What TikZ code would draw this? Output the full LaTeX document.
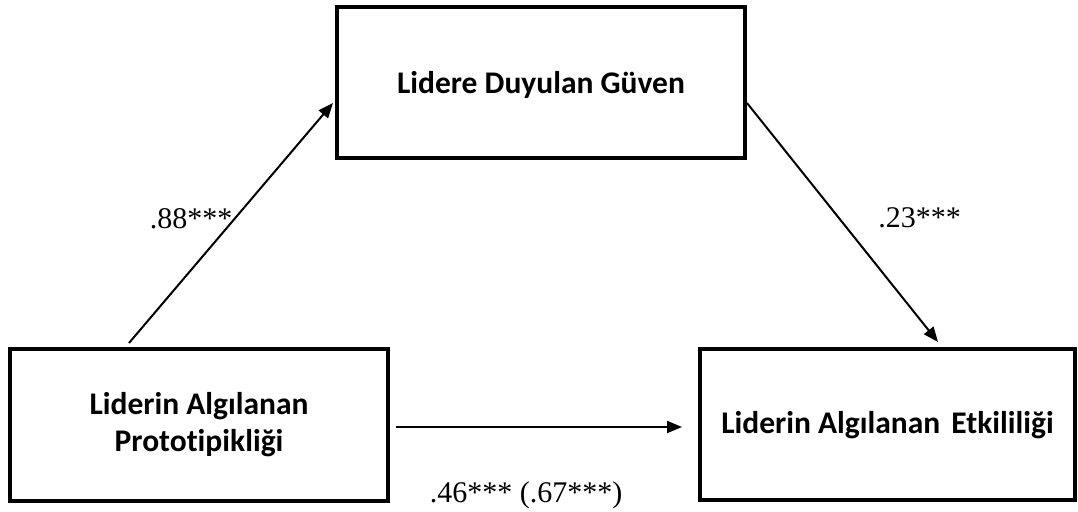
\documentclass[tikz,border=0pt]{standalone}
\usepackage{fontspec}
\setmainfont{Carlito}[Ligatures=NoCommon]
\newfontfamily\koeffont{Liberation Serif}
\usetikzlibrary{arrows.meta}
\begin{document}
\begin{tikzpicture}[x=1pt, y=-1pt]
  \useasboundingbox (0, 0) rectangle (1078, 511);

  \tikzstyle{box}=[draw, line width=3.3pt, outer sep=0pt, inner sep=0pt, align=center, font=\bfseries\fontsize{31.5}{37}\selectfont]
  \tikzstyle{link}=[line width=2pt, -{Triangle[length=15pt, width=12pt]}]
  \tikzstyle{koef}=[anchor=base, inner sep=0pt, font=\koeffont\fontsize{30}{33}\selectfont]

  % Kästen
  \node[box, minimum width=408pt, minimum height=151pt, text height=27pt, text depth=6pt] (trust) at (541, 82.5) {Lidere Duyulan Güven};
  \node[box, minimum width=378pt, minimum height=152pt] (proto) at (199, 425) {Liderin Algılanan\\Prototipikliği};
  \node[box, minimum width=375pt, minimum height=151pt, text height=23pt, text depth=6pt] (effect) at (887.5, 424.5) {Liderin Algılanan\hspace{4pt} Etkililiği};

  % Pfeile
  \draw[link] ([xshift=119pt, yshift=6pt]proto.north west) -- ([xshift=-4pt, yshift=-20.5pt]trust.west);
  \draw[link] ([xshift=2pt, yshift=-20.5pt]trust.east) -- ([xshift=238pt, yshift=7pt]effect.north west);
  \draw[link] ([xshift=8pt, yshift=-2pt]proto.east) -- ([xshift=-18pt, yshift=-2.5pt]effect.west);

  % Koeffizienten
  \node[koef] (a) at (191, 228) {.88***};
  \node[koef] (b) at (919.5, 227) {.23***};
  \node[koef] (c) at (526, 502) {.46*** (.67***)};
\end{tikzpicture}
\end{document}
